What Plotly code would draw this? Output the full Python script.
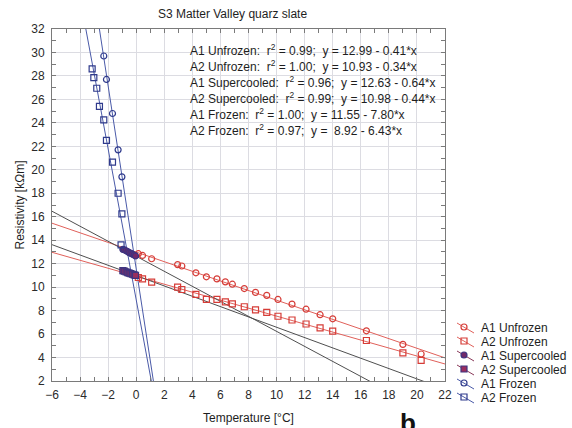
import numpy as np
import plotly.graph_objects as go

# ---- measurements: temperature [°C] vs resistivity [kΩm] ----
a1_unfrozen_t = [0.15, 0.45, 1.1, 2.95, 3.25, 4.25, 5.0, 5.75, 6.35, 6.85, 7.7,
                 8.5, 9.3, 10.1, 11.1, 12.1, 13.1, 14.0, 16.4, 19.0, 20.3]
a1_unfrozen_r = [12.85, 12.70, 12.42, 11.92, 11.80, 11.22, 10.88, 10.70, 10.45, 10.25, 9.88,
                 9.55, 9.30, 8.95, 8.55, 8.12, 7.65, 7.30, 6.28, 5.12, 4.30]

a2_unfrozen_t = [0.15, 0.45, 1.1, 2.95, 3.25, 4.25, 5.0, 5.75, 6.35, 6.85, 7.7,
                 8.5, 9.3, 10.1, 11.1, 12.1, 13.1, 14.0, 16.4, 19.0, 20.3]
a2_unfrozen_r = [10.82, 10.70, 10.42, 10.00, 9.80, 9.38, 8.95, 8.95, 8.75, 8.58, 8.33,
                 8.07, 7.85, 7.52, 7.20, 6.86, 6.52, 6.25, 5.45, 4.40, 3.75]

a1_supercooled_t = [-0.95, -0.85, -0.72, -0.60, -0.50, -0.38, -0.27, -0.15, -0.05]
a1_supercooled_r = [13.22, 13.18, 13.10, 13.02, 12.94, 12.88, 12.80, 12.74, 12.66]

a2_supercooled_t = [-0.95, -0.85, -0.72, -0.60, -0.50, -0.38, -0.27, -0.15, -0.05]
a2_supercooled_r = [11.40, 11.36, 11.30, 11.23, 11.20, 11.15, 11.10, 11.05, 11.00]

a1_frozen_t = [-2.31, -2.12, -1.69, -1.29, -1.02]
a1_frozen_r = [29.7, 27.7, 24.8, 21.7, 19.4]

a2_frozen_t = [-3.14, -3.02, -2.81, -2.62, -2.31, -2.12, -1.69, -1.29, -1.02, -1.08]
a2_frozen_r = [28.6, 27.85, 26.95, 25.4, 24.25, 22.5, 20.65, 18.0, 16.25, 13.6]

# ---- linear fits y = a - b*x ----
fit_names = ["A1 Unfrozen", "A2 Unfrozen", "A1 Supercooled",
             "A2 Supercooled", "A1 Frozen", "A2 Frozen"]
fit_r2 = [0.99, 1.00, 0.96, 0.99, 1.00, 0.97]
fit_intercept = [12.99, 10.93, 12.63, 10.98, 11.55, 8.92]
fit_slope = [0.41, 0.34, 0.64, 0.44, 7.80, 6.43]

x_range = [-6, 22]
y_range = [2, 32]

# ---- styling ----
FONT = "Liberation Sans, Arial, sans-serif"
RED_M, RED_L = "#d63c37", "#e0605a"
BLUE_M, BLUE_L = "#2f3a8c", "#4a5aa8"
GRAY_L = "#4f4f4f"
SC1_FILL, SC2_FILL = "#73296a", "#9a2d5e"
SC_EDGE = "#3e3480"

series = [
    # name index, t, r, symbol, marker edge, fill, fit line colour
    (0, a1_unfrozen_t, a1_unfrozen_r, "circle-open", RED_M, None, RED_L),
    (1, a2_unfrozen_t, a2_unfrozen_r, "square-open", RED_M, None, RED_L),
    (2, a1_supercooled_t, a1_supercooled_r, "circle", SC_EDGE, SC1_FILL, GRAY_L),
    (3, a2_supercooled_t, a2_supercooled_r, "square", SC_EDGE, SC2_FILL, GRAY_L),
    (4, a1_frozen_t, a1_frozen_r, "circle-open", BLUE_M, None, BLUE_L),
    (5, a2_frozen_t, a2_frozen_r, "square-open", BLUE_M, None, BLUE_L),
]

fig = go.Figure()

# fit lines across the full temperature span (clipped by the axes)
line_x = np.linspace(x_range[0], x_range[1], 2)
for i, _, _, _, _, _, lc in series:
    fig.add_trace(go.Scatter(
        x=line_x, y=fit_intercept[i] - fit_slope[i] * line_x,
        mode="lines", line=dict(color=lc, width=1),
        hoverinfo="skip", showlegend=False))

# measured points
for i, t, r, sym, edge, fill, _ in series:
    marker = dict(symbol=sym, size=6, line=dict(color=edge, width=1.2))
    marker["color"] = fill if fill else edge
    fig.add_trace(go.Scatter(
        x=t, y=r, mode="markers", name=fit_names[i],
        marker=marker, showlegend=False))

# ---- plot frame geometry (pixels) ----
W, H = 572, 428
L, R, T, B = 52, 127, 29, 47
PW, PH = W - L - R, H - T - B


def px_x(p):
    return (p - L) / PW


def px_y(p):
    return (H - B - p) / PH


annotations = []

# fit equations
for i in range(len(fit_names)):
    txt = (f"{fit_names[i]}:\u00a0 r<sup>2</sup> = {fit_r2[i]:.2f};\u00a0 "
           f"y = {fit_intercept[i]:.2f} - {fit_slope[i]:.2f}*x")
    if fit_intercept[i] < 10:
        txt = txt.replace("y = ", "y =\u00a0 ")
    annotations.append(dict(
        text=txt, xref="paper", yref="paper",
        x=px_x(188), y=px_y(50 + 16 * i), xanchor="left", yanchor="middle",
        showarrow=False, font=dict(family=FONT, size=12, color="#1e1e1e")))

# legend: diagonal stroke + marker + label
shapes = []
legend_style = [
    ("circle", RED_M, None, RED_L),
    ("rect", RED_M, None, RED_L),
    ("circle", SC_EDGE, SC1_FILL, "#8a3a5a"),
    ("rect", SC_EDGE, SC2_FILL, "#8a3a5a"),
    ("circle", BLUE_M, None, BLUE_L),
    ("rect", BLUE_M, None, BLUE_L),
]
for k, (shp, edge, fill, lc) in enumerate(legend_style):
    yc = 328 + 14 * k
    shapes.append(dict(type="line", xref="paper", yref="paper",
                       x0=px_x(457), y0=px_y(yc - 5), x1=px_x(474), y1=px_y(yc + 5),
                       line=dict(color=lc, width=1)))
    shapes.append(dict(type=shp, xref="paper", yref="paper",
                       xsizemode="pixel", ysizemode="pixel",
                       xanchor=px_x(464), yanchor=px_y(yc - 1),
                       x0=-3, x1=3, y0=-3, y1=3,
                       line=dict(color=edge, width=1.2),
                       fillcolor=fill if fill else "rgba(0,0,0,0)"))
    annotations.append(dict(
        text=fit_names[k], xref="paper", yref="paper",
        x=px_x(479), y=px_y(yc), xanchor="left", yanchor="middle",
        showarrow=False, font=dict(family=FONT, size=12, color="#1e1e1e")))

# panel letter
annotations.append(dict(
    text="<b>b</b>", xref="paper", yref="paper", x=px_x(408), y=px_y(406),
    xanchor="center", yanchor="top", showarrow=False,
    font=dict(family=FONT, size=26, color="#111")))

axis_common = dict(
    showline=True, linecolor="#7a7a7a", linewidth=1, mirror="allticks",
    ticks="inside", ticklen=4, tickcolor="#7a7a7a", tickwidth=1,
    minor=dict(dtick=1, ticks="inside", ticklen=4, tickcolor="#7a7a7a", showgrid=False),
    showgrid=True, gridcolor="#dcdce2", gridwidth=1, zeroline=False,
    tickfont=dict(family=FONT, size=12, color="#2a2a2a"),
    dtick=2, automargin=False,
)

fig.update_layout(
    width=W, height=H,
    margin=dict(l=L, r=R, t=T, b=B),
    paper_bgcolor="white", plot_bgcolor="white",
    font=dict(family=FONT, size=12, color="#1e1e1e"),
    title=dict(text="S3 Matter Valley quarz slate", x=px_x(232.5), xref="paper",
               xanchor="center", y=1 - 14 / H, yref="container", yanchor="middle",
               font=dict(family=FONT, size=12, color="#1e1e1e")),
    xaxis=dict(range=x_range, tick0=-6, ticklabelstandoff=3,
               title=dict(text="Temperature [°C]", standoff=12,
                          font=dict(family=FONT, size=12, color="#1e1e1e")),
               **axis_common),
    yaxis=dict(range=y_range, tick0=2, ticklabelstandoff=4,
               title=dict(text="Resistivity [kΩm]", standoff=4,
                          font=dict(family=FONT, size=12, color="#1e1e1e")),
               **axis_common),
    annotations=annotations,
    shapes=shapes,
    showlegend=False,
)

fig.write_html("out.html")
